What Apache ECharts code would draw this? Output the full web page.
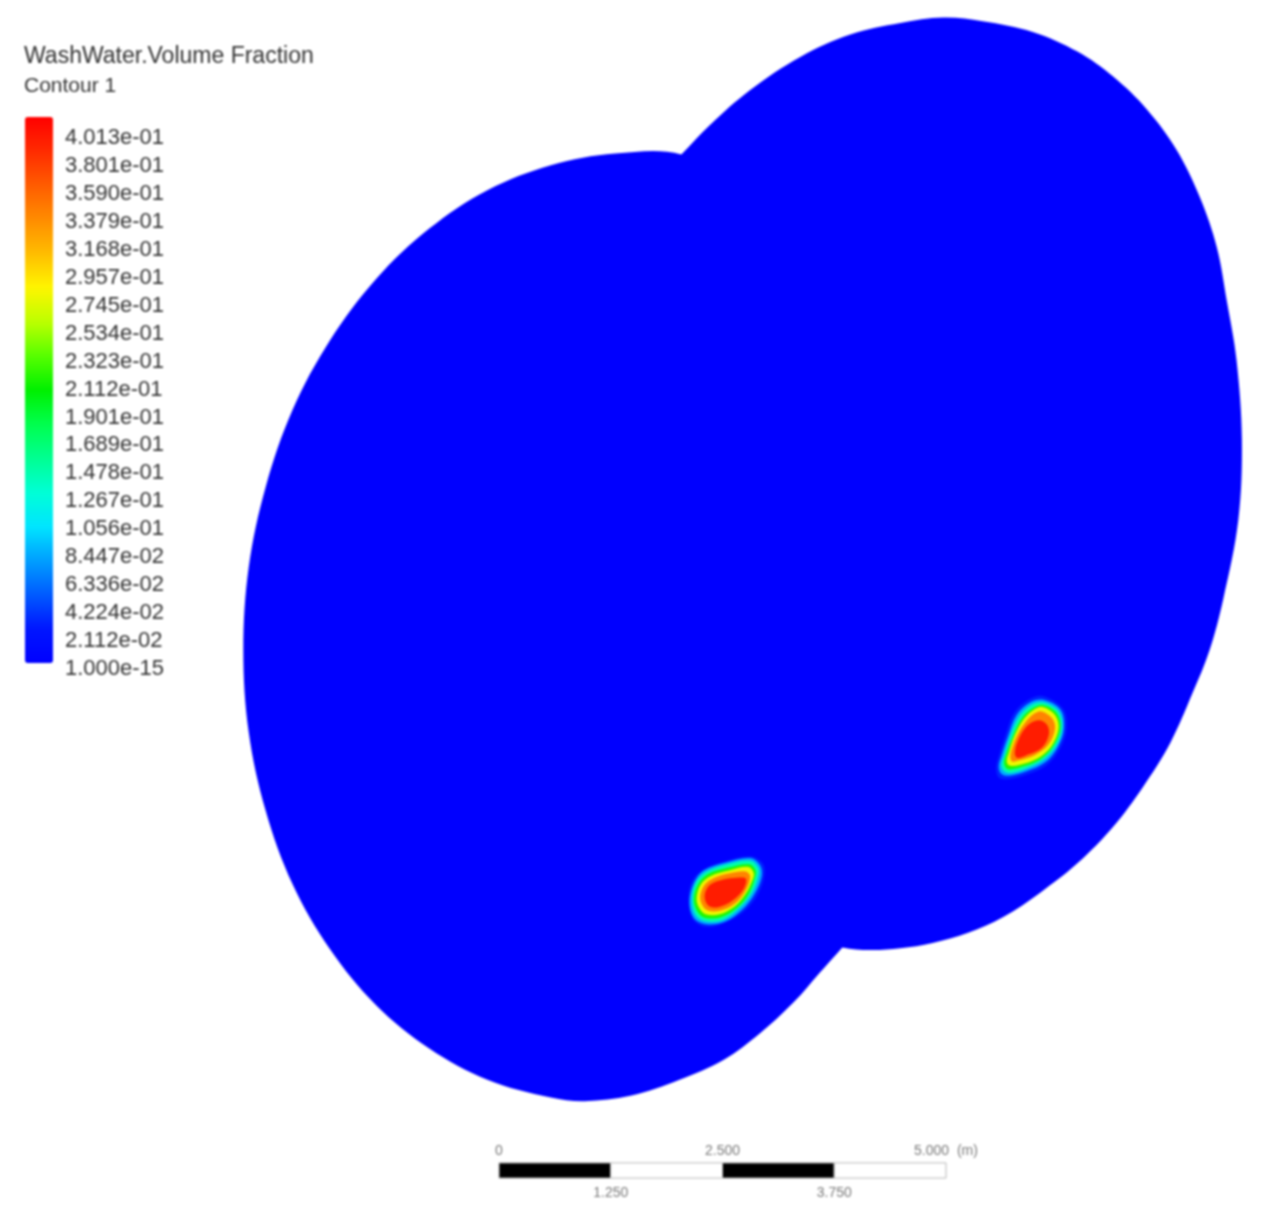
<!DOCTYPE html>
<html>
<head>
<meta charset="utf-8">
<title>WashWater.Volume Fraction</title>
<style>
html, body { margin: 0; padding: 0; background: #fff; }
#chart { width: 1262px; height: 1215px; filter: blur(0.8px); }
</style>
<script src="https://cdn.jsdelivr.net/npm/echarts@6/dist/echarts.min.js"></script>
</head>
<body>
<div id="chart"></div>
<script>
// everything is in metres (0 = left end of the bar)
var legendLabels = ["4.013e-01", "3.801e-01", "3.590e-01", "3.379e-01", "3.168e-01", "2.957e-01", "2.745e-01",
    "2.534e-01", "2.323e-01", "2.112e-01", "1.901e-01", "1.689e-01", "1.478e-01", "1.267e-01", "1.056e-01",
    "8.447e-02", "6.336e-02", "4.224e-02", "2.112e-02", "1.000e-15"];

// sampled from the colour bar at even steps, bottom to top
var legendColors = ["#0000ff", "#0016ff", "#005aff", "#009fff", "#00e5ff", "#00ffd6", "#00ff91", "#00ff4e", "#00f000",
    "#57ff00", "#bdff00", "#fff500", "#ffbd00", "#ff8c00", "#ff5c00", "#ff2b00", "#ff0000"];

// two disc outlines, the part of each hidden by the other one is only a rough guess
var upperDisc = [[2.04, 11.36], [2.36, 11.69], [2.81, 12.08], [3.37, 12.45], [3.93, 12.70], [4.49, 12.83], [4.97, 12.89],
    [5.41, 12.85], [5.97, 12.73], [6.47, 12.51], [6.87, 12.23], [7.25, 11.86], [7.58, 11.41], [7.84, 10.88], [8.03, 10.32],
    [8.14, 9.73], [8.25, 9.06], [8.31, 8.17], [8.27, 7.27], [8.10, 6.38], [7.95, 5.82], [7.76, 5.34], [7.51, 4.78],
    [7.20, 4.28], [6.87, 3.84], [6.47, 3.43], [6.05, 3.10], [5.64, 2.83], [5.24, 2.65], [4.85, 2.54], [4.49, 2.48],
    [4.15, 2.46], [3.84, 2.49], [3.37, 2.63], [2.70, 3.02], [1.80, 3.80], [1.02, 5.26], [0.57, 7.49], [0.79, 9.17],
    [1.13, 10.18], [1.69, 11.01]];

var lowerDisc = [[3.84, 2.49], [3.59, 2.21], [3.29, 1.87], [2.92, 1.53], [2.51, 1.23], [2.02, 1.01], [1.47, 0.83],
    [0.96, 0.77], [0.58, 0.81], [-0.13, 1.01], [-0.78, 1.36], [-1.38, 1.85], [-1.89, 2.47], [-2.31, 3.20], [-2.61, 4.02],
    [-2.80, 4.90], [-2.86, 5.82], [-2.80, 6.74], [-2.61, 7.64], [-2.31, 8.50], [-1.89, 9.28], [-1.38, 9.96], [-0.78, 10.53],
    [-0.13, 10.96], [0.58, 11.24], [1.30, 11.37], [2.04, 11.36], [3.38, 10.79], [4.49, 9.68], [5.21, 8.13], [5.46, 6.33],
    [5.21, 4.51], [4.70, 3.60], [4.20, 2.90]];

var ringLevels = [0.03, 0.08, 0.14, 0.21, 0.27, 0.33, 0.385];

// contour rings of the right blob, lowest level first
var rightBlob = [
    [[6.09, 5.30], [6.31, 5.16], [6.35, 4.94], [6.28, 4.72], [6.13, 4.53], [5.90, 4.42], [5.70, 4.37], [5.59, 4.39], [5.56, 4.50], [5.59, 4.63], [5.66, 4.85], [5.76, 5.11], [5.92, 5.26]],
    [[6.09, 5.26], [6.28, 5.15], [6.32, 4.94], [6.25, 4.73], [6.11, 4.56], [5.90, 4.46], [5.71, 4.41], [5.62, 4.43], [5.59, 4.51], [5.62, 4.63], [5.69, 4.84], [5.79, 5.09], [5.94, 5.23]],
    [[6.09, 5.23], [6.26, 5.13], [6.30, 4.94], [6.23, 4.74], [6.08, 4.58], [5.87, 4.48], [5.72, 4.44], [5.65, 4.46], [5.62, 4.53], [5.65, 4.63], [5.71, 4.83], [5.81, 5.06], [5.95, 5.20]],
    [[6.09, 5.20], [6.24, 5.11], [6.28, 4.94], [6.20, 4.74], [6.05, 4.59], [5.85, 4.51], [5.72, 4.48], [5.67, 4.50], [5.65, 4.56], [5.67, 4.64], [5.74, 4.83], [5.84, 5.04], [5.96, 5.16]],
    [[6.08, 5.18], [6.22, 5.09], [6.26, 4.94], [6.18, 4.74], [6.02, 4.60], [5.82, 4.53], [5.73, 4.52], [5.69, 4.54], [5.68, 4.59], [5.70, 4.66], [5.76, 4.84], [5.86, 5.03], [5.97, 5.14]],
    [[6.07, 5.13], [6.19, 5.05], [6.22, 4.93], [6.14, 4.75], [5.99, 4.64], [5.81, 4.58], [5.74, 4.57], [5.72, 4.62], [5.74, 4.72], [5.80, 4.87], [5.89, 5.01], [5.98, 5.10]],
    [[6.03, 5.03], [6.13, 4.98], [6.15, 4.87], [6.07, 4.72], [5.90, 4.64], [5.80, 4.61], [5.77, 4.66], [5.80, 4.79], [5.90, 4.96]]
];

// same for the left blob
var leftBlob = [
    [[2.81, 3.51], [2.95, 3.43], [2.97, 3.30], [2.90, 3.09], [2.75, 2.90], [2.54, 2.77], [2.32, 2.72], [2.17, 2.80], [2.12, 2.98], [2.15, 3.21], [2.28, 3.36], [2.54, 3.46]],
    [[2.81, 3.49], [2.92, 3.41], [2.94, 3.29], [2.86, 3.09], [2.72, 2.91], [2.53, 2.78], [2.32, 2.75], [2.18, 2.82], [2.13, 3.00], [2.18, 3.21], [2.29, 3.35], [2.54, 3.44]],
    [[2.81, 3.46], [2.90, 3.38], [2.90, 3.28], [2.83, 3.10], [2.69, 2.93], [2.51, 2.80], [2.32, 2.78], [2.20, 2.85], [2.16, 3.02], [2.20, 3.21], [2.31, 3.33], [2.55, 3.42]],
    [[2.80, 3.42], [2.87, 3.35], [2.86, 3.26], [2.80, 3.10], [2.67, 2.94], [2.49, 2.83], [2.31, 2.82], [2.22, 2.89], [2.18, 3.03], [2.23, 3.20], [2.34, 3.31], [2.56, 3.38]],
    [[2.79, 3.39], [2.85, 3.32], [2.83, 3.23], [2.76, 3.09], [2.64, 2.95], [2.47, 2.86], [2.31, 2.86], [2.24, 2.93], [2.21, 3.04], [2.26, 3.20], [2.37, 3.29], [2.57, 3.35]],
    [[2.76, 3.34], [2.81, 3.28], [2.76, 3.13], [2.64, 2.98], [2.47, 2.90], [2.32, 2.91], [2.25, 3.04], [2.30, 3.19], [2.41, 3.27], [2.58, 3.32]],
    [[2.66, 3.27], [2.76, 3.26], [2.74, 3.15], [2.62, 3.02], [2.45, 2.94], [2.34, 2.96], [2.30, 3.07], [2.36, 3.19], [2.51, 3.25]]
];

var scaleSegments = [[0, 1.25, 1], [1.25, 2.5, 0], [2.5, 3.75, 1], [3.75, 5, 0]];
var scaleTicksAbove = [[0, "0"], [2.5, "2.500"], [5, "5.000  (m)"]];
var scaleTicksBelow = [[1.25, "1.250"], [3.75, "3.750"]];

var textFont = "Liberation Sans";

// all closed shapes go through one series, painted in this order
var shapes = [upperDisc, lowerDisc];
var shapeRows = [[upperDisc[0][0], upperDisc[0][1], 1e-15, 0], [lowerDisc[0][0], lowerDisc[0][1], 1e-15, 1]];
[leftBlob, rightBlob].forEach(function(blob) {
    for (var i = 0; i < blob.length; i++) {
        shapes.push(blob[i]);
        shapeRows.push([blob[i][0][0], blob[i][0][1], ringLevels[i], shapes.length - 1]);
    }
});

function renderShape(params, api) {
    var ring = shapes[api.value(3)];
    var points = [];
    for (var i = 0; i < ring.length; i++) {
        points.push(api.coord(ring[i]));
    }
    return {
        type: "polygon",
        shape: { points: points, smooth: 0.35 },
        style: { fill: api.visual("color") }
    };
}

function renderScaleSegment(params, api) {
    var topLeft = api.coord([api.value(0), 0.08]);
    var bottomRight = api.coord([api.value(1), -0.09]);
    return {
        type: "rect",
        shape: { x: topLeft[0], y: topLeft[1], width: bottomRight[0] - topLeft[0], height: bottomRight[1] - topLeft[1] },
        style: { fill: api.value(2) ? "#000" : "#fff", stroke: "#b8b8b8", lineWidth: 1 }
    };
}

var chart = echarts.init(document.getElementById("chart"), null, { renderer: "canvas" });
chart.setOption({
    animation: false,
    backgroundColor: "#fff",
    title: [
        { text: "WashWater.Volume Fraction", left: 24, top: 45, padding: 0, textStyle: { fontFamily: textFont, fontSize: 23, fontWeight: "normal", color: "#333" } },
        { text: "Contour 1", left: 24, top: 76, padding: 0, textStyle: { fontFamily: textFont, fontSize: 21, fontWeight: "normal", color: "#333" } }
    ],
    grid: [
        { left: 0, right: 0, top: 0, bottom: 0 },
        { left: 55, width: 1, top: 138, height: 531 }
    ],
    xAxis: [
        { type: "value", gridIndex: 0, min: -5.582, max: 8.535, show: false },
        { type: "value", gridIndex: 1, show: false }
    ],
    yAxis: [
        { type: "value", gridIndex: 0, min: -0.503, max: 13.087, show: false },
        {
            type: "category",
            gridIndex: 1,
            data: legendLabels,
            inverse: true,
            boundaryGap: false,
            position: "right",
            axisLine: { show: false },
            axisTick: { show: false },
            axisLabel: { interval: 0, margin: 9, fontFamily: textFont, fontSize: 22, color: "#333" }
        }
    ],
    visualMap: {
        type: "continuous",
        seriesIndex: 0,
        dimension: 2,
        min: 1e-15,
        max: 0.4013,
        left: 25,
        top: 117,
        padding: 0,
        itemWidth: 28,
        itemHeight: 546,
        text: null,
        calculable: false,
        hoverLink: false,
        inRange: { color: legendColors }
    },
    series: [
        {
            type: "custom",
            xAxisIndex: 0,
            yAxisIndex: 0,
            renderItem: renderShape,
            clip: false,
            encode: { x: 0, y: 1 },
            data: shapeRows,
            silent: true
        },
        {
            type: "custom",
            xAxisIndex: 0,
            yAxisIndex: 0,
            renderItem: renderScaleSegment,
            encode: { x: [0, 1] },
            data: scaleSegments,
            silent: true
        },
        {
            type: "scatter",
            xAxisIndex: 0,
            yAxisIndex: 0,
            symbolSize: 0,
            silent: true,
            data: scaleTicksAbove.map(function(t) { return { value: [t[0], 0], name: t[1] }; }),
            label: { show: true, position: "top", distance: 12, formatter: "{b}", fontFamily: textFont, fontSize: 14, color: "#555" }
        },
        {
            type: "scatter",
            xAxisIndex: 0,
            yAxisIndex: 0,
            symbolSize: 0,
            silent: true,
            data: scaleTicksBelow.map(function(t) { return { value: [t[0], 0], name: t[1] }; }),
            label: { show: true, position: "bottom", distance: 16, formatter: "{b}", fontFamily: textFont, fontSize: 14, color: "#555" }
        }
    ]
});
</script>
</body>
</html>
